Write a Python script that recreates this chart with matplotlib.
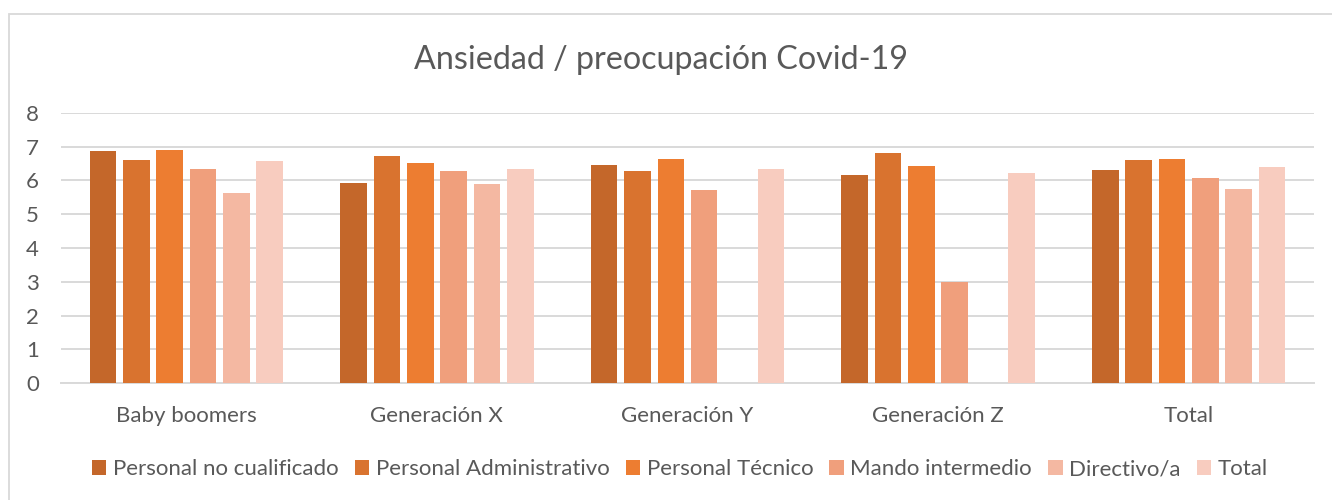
import numpy as np
import matplotlib
matplotlib.use("Agg")
import matplotlib.pyplot as plt
from matplotlib.patches import Rectangle

categories = ["Baby boomers", "Generación X", "Generación Y", "Generación Z", "Total"]
series_names = ["Personal no cualificado", "Personal Administrativo", "Personal Técnico",
                "Mando intermedio", "Directivo/a", "Total"]
personal_no_cualificado = [6.87, 5.93, 6.46, 6.15, 6.31]
personal_administrativo = [6.61, 6.72, 6.28, 6.82, 6.59]
personal_tecnico = [6.91, 6.50, 6.63, 6.42, 6.63]
mando_intermedio = [6.34, 6.27, 5.71, 3.00, 6.07]
directivo = [5.62, 5.90, np.nan, np.nan, 5.74]
total = [6.57, 6.34, 6.33, 6.21, 6.39]
series_values = [personal_no_cualificado, personal_administrativo, personal_tecnico,
                 mando_intermedio, directivo, total]
colors = ["#C4672A", "#D9732F", "#ED7D31", "#F09F7C", "#F4B8A2", "#F8CCBF"]
yticks = [0, 1, 2, 3, 4, 5, 6, 7, 8]

plt.rcParams['font.family'] = ['Lato', 'DejaVu Sans']
text_color = "#595959"
grid_color = "#D9D9D9"

W, H = 1332, 500
fig = plt.figure(figsize=(W / 100, H / 100), dpi=100)
fig.patch.set_facecolor("white")

ax = fig.add_axes([61 / W, 1 - 383.3 / H, (1314 - 61) / W, (383.3 - 112.7) / H])

x = np.arange(len(categories))
slot = 0.133
bw = 0.106
n = len(series_values)
for i, (vals, name, c) in enumerate(zip(series_values, series_names, colors)):
    ax.bar(x + (i - (n - 1) / 2) * slot, vals, width=bw, color=c, label=name, zorder=3)

ax.set_xlim(-0.5, len(categories) - 0.5)
ax.set_ylim(0, 8)
ax.set_yticks(yticks)
ax.set_yticklabels([str(v) for v in yticks])
ax.set_xticks(x)
ax.set_xticklabels(categories)
ax.yaxis.grid(True, color=grid_color, linewidth=1.4, zorder=0)
ax.set_axisbelow(True)
for s in ["top", "right", "left"]:
    ax.spines[s].set_visible(False)
ax.spines["bottom"].set_color(grid_color)
ax.spines["bottom"].set_linewidth(1.4)
ax.tick_params(axis="both", length=0, colors=text_color)
ax.tick_params(axis="y", pad=16, labelsize=16)
ax.tick_params(axis="x", pad=16.5, labelsize=16)

fig.text(661 / W, 1 - 60 / H, "Ansiedad / preocupación Covid-19", ha="center", va="center",
         fontsize=23.2, color=text_color)

leg = fig.legend(loc="center", bbox_to_anchor=(680 / W, 1 - 469.5 / H), ncol=6, frameon=False,
                 fontsize=16, handlelength=0.65, handleheight=0.65, handletextpad=0.3,
                 columnspacing=0.72, labelcolor=text_color)

fig.patches.append(Rectangle((9 / W, -0.1), 1.2, 1 - 13.5 / H + 0.1, transform=fig.transFigure,
                             fill=False, edgecolor=grid_color, linewidth=1.3))

fig.savefig("out.png", dpi=100, facecolor="white")
